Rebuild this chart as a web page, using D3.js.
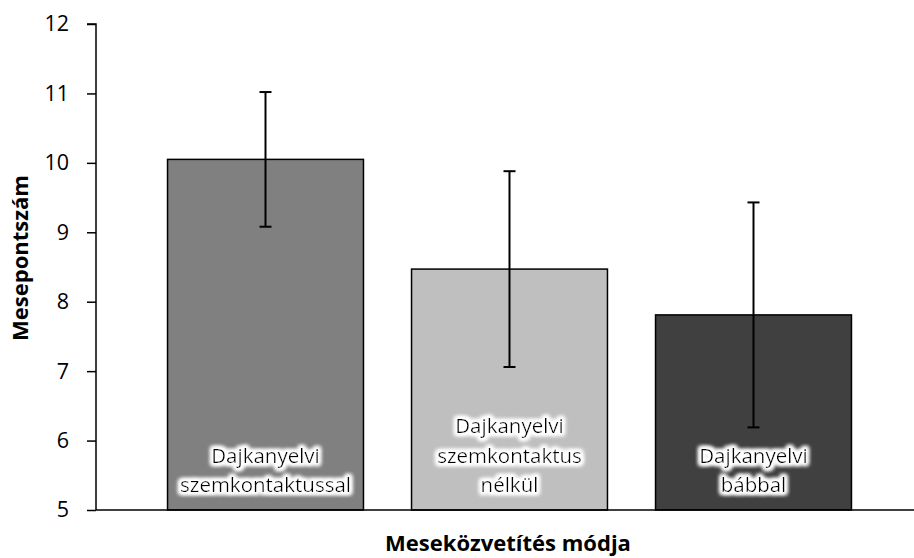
<!DOCTYPE html>
<html>
<head>
<meta charset="utf-8">
<script src="https://cdn.jsdelivr.net/npm/d3@7"></script>
<style>
  body { margin: 0; background: #fff; }
  svg text { font-family: "Open Sans", "Noto Sans", sans-serif; fill: #000; }
</style>
</head>
<body>
<div id="chart"></div>
<script>
// data
const categories = ['Dajkanyelvi szemkontaktussal', 'Dajkanyelvi szemkontaktus nélkül', 'Dajkanyelvi bábbal'];
const labelLines = [
  ['Dajkanyelvi', 'szemkontaktussal'],
  ['Dajkanyelvi', 'szemkontaktus', 'nélkül'],
  ['Dajkanyelvi', 'bábbal']
];
const means = [10.05, 8.47, 7.81];
const errors = [0.97, 1.41, 1.62];
const yTicks = [5, 6, 7, 8, 9, 10, 11, 12];

const barColors = ['#808080', '#bfbfbf', '#404040'];

const width = 914, height = 558;
const axisX = 96, axisY = 510, topY = 24;

const svg = d3.select('#chart').append('svg')
  .attr('width', width)
  .attr('height', height);

// white halo behind the bar labels
const filter = svg.append('defs').append('filter')
  .attr('id', 'glow')
  .attr('x', '-20%').attr('y', '-40%')
  .attr('width', '140%').attr('height', '180%');
filter.append('feMorphology')
  .attr('in', 'SourceAlpha').attr('operator', 'dilate').attr('radius', 1.6).attr('result', 'd');
filter.append('feGaussianBlur')
  .attr('in', 'd').attr('stdDeviation', 2.2).attr('result', 'b');
filter.append('feFlood').attr('flood-color', '#fff');
filter.append('feComposite').attr('in2', 'b').attr('operator', 'in').attr('result', 'g');
const merge = filter.append('feMerge');
merge.append('feMergeNode').attr('in', 'g');
merge.append('feMergeNode').attr('in', 'g');
merge.append('feMergeNode').attr('in', 'g');
merge.append('feMergeNode').attr('in', 'SourceGraphic');

const y = d3.scaleLinear()
  .domain([5, 12])
  .range([axisY, topY]);

const x = d3.scaleBand()
  .domain(categories)
  .range([143.5, 875.5])
  .paddingInner(0.197)
  .paddingOuter(0.0985);

/* bars */
svg.append('g').selectAll('rect')
  .data(categories)
  .enter().append('rect')
  .attr('x', d => x(d))
  .attr('y', (d, i) => y(means[i]))
  .attr('width', x.bandwidth())
  .attr('height', (d, i) => y(5) - y(means[i]))
  .attr('fill', (d, i) => barColors[i])
  .attr('stroke', '#000')
  .attr('stroke-width', 1.5);

/* error bars */
const eb = svg.append('g')
  .attr('stroke', '#000')
  .attr('stroke-width', 2);
categories.forEach((c, i) => {
  const cx = x(c) + x.bandwidth() / 2;
  const hi = y(means[i] + errors[i]);
  const lo = y(means[i] - errors[i]);
  eb.append('line').attr('x1', cx).attr('x2', cx).attr('y1', hi).attr('y2', lo);
  eb.append('line').attr('x1', cx - 6).attr('x2', cx + 6).attr('y1', hi).attr('y2', hi);
  eb.append('line').attr('x1', cx - 6).attr('x2', cx + 6).attr('y1', lo).attr('y2', lo);
});

/* bar labels */
categories.forEach((c, i) => {
  const lines = labelLines[i];
  const t = svg.append('text')
    .attr('text-anchor', 'middle')
    .attr('font-size', 20.5)
    .attr('filter', 'url(#glow)');
  lines.forEach((ln, j) => {
    t.append('tspan')
      .attr('x', x(c) + x.bandwidth() / 2)
      .attr('y', y(5) - 18 - (lines.length - 1 - j) * 29.5)
      .text(ln);
  });
});

/* y axis */
const yAxis = d3.axisLeft(y)
  .tickValues(yTicks)
  .tickSize(9)
  .tickPadding(18)
  .tickFormat(d3.format('d'));
const ga = svg.append('g')
  .attr('transform', `translate(${axisX},0)`)
  .call(yAxis);
ga.select('.domain').attr('stroke', '#000').attr('stroke-width', 1.5).attr('d', `M-9,${topY}H0V${axisY}`);
ga.selectAll('.tick line').attr('stroke', '#000').attr('stroke-width', 1.5);
ga.selectAll('.tick text')
  .attr('font-size', 21.5)
  .attr('font-family', '"Open Sans", sans-serif')
  .attr('fill', '#000');

/* x axis line */
svg.append('line')
  .attr('x1', axisX).attr('x2', width)
  .attr('y1', axisY).attr('y2', axisY)
  .attr('stroke', '#000')
  .attr('stroke-width', 1.5);

/* axis titles */
svg.append('text')
  .attr('x', 508)
  .attr('y', 551)
  .attr('text-anchor', 'middle')
  .attr('font-size', 22)
  .attr('font-weight', 'bold')
  .text('Meseközvetítés módja');

svg.append('text')
  .attr('transform', 'translate(28,258) rotate(-90)')
  .attr('text-anchor', 'middle')
  .attr('font-size', 22)
  .attr('font-weight', 'bold')
  .text('Mesepontszám');
</script>
</body>
</html>
